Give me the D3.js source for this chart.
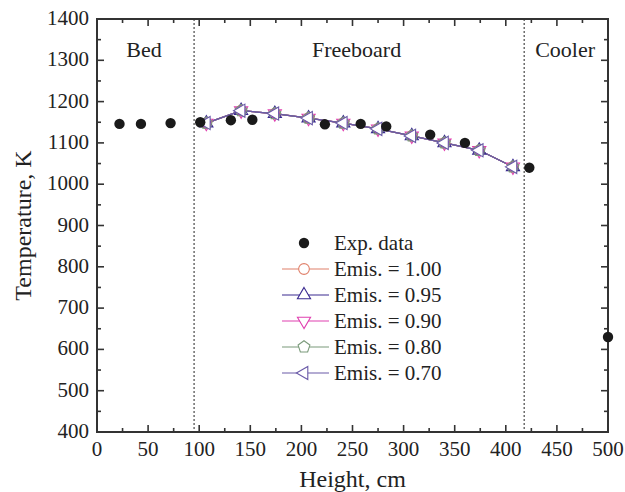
<!DOCTYPE html>
<html><head><meta charset="utf-8">
<script src="https://cdn.jsdelivr.net/npm/d3@7"></script>
<style>body{margin:0;background:#fff}</style>
</head><body><svg id="c" width="625" height="492" font-family="Liberation Serif, Times New Roman, serif" fill="#222"></svg>
<script>
const expHeight = [22, 43, 72, 101, 131, 152, 223, 258, 283, 326, 360, 423, 500];
const expTemp   = [1146, 1146, 1148, 1150, 1155, 1156, 1145, 1146, 1140, 1120, 1100, 1040, 630];
const simHeight = [107, 141, 174, 207, 241, 275, 308, 340, 374, 407];
const emis100 = [1148, 1178, 1171, 1160, 1148, 1134, 1117, 1100, 1082, 1042];
const emis095 = [1148, 1178, 1171, 1160, 1148, 1134, 1117, 1100, 1082, 1042];
const emis090 = [1148, 1178, 1171, 1160, 1148, 1134, 1117, 1100, 1082, 1042];
const emis080 = [1148, 1178, 1171, 1160, 1148, 1134, 1117, 1100, 1082, 1042];
const emis070 = [1148, 1178, 1171, 1160, 1148, 1134, 1117, 1100, 1082, 1042];
const seriesNames = ["Emis. = 1.00", "Emis. = 0.95", "Emis. = 0.90", "Emis. = 0.80", "Emis. = 0.70"];
const xTicks = [0, 50, 100, 150, 200, 250, 300, 350, 400, 450, 500];
const yTicks = [400, 500, 600, 700, 800, 900, 1000, 1100, 1200, 1300, 1400];
const zoneBounds = [95, 418];
const zoneLabels = [{t:"Bed", x:46}, {t:"Freeboard", x:254}, {t:"Cooler", x:458}];

const W = 625, H = 492, m = {l:97, r:17, t:19, b:60};
const svg = d3.select("#c");
const x = d3.scaleLinear().domain([0,500]).range([m.l, W-m.r]);
const y = d3.scaleLinear().domain([400,1400]).range([H-m.b, m.t]);

const colors = ["#e0806a", "#3a2a90", "#e040b0", "#7a9a7a", "#6a5aa8"];
const sym = [d3.symbolCircle, d3.symbolTriangle, d3.symbolTriangle, "pent", d3.symbolTriangle];
const rot = [0, 0, 180, 0, -90];
const series = [emis100, emis095, emis090, emis080, emis070];

function markerPath(i){
  if (sym[i] === "pent") {
    const r = 6.2, pts = [];
    for (let k=0;k<5;k++){const a = -Math.PI/2 + k*2*Math.PI/5; pts.push([r*Math.cos(a), r*Math.sin(a)]);}
    return d3.line()(pts) + "Z";
  }
  return d3.symbol().type(sym[i]).size(sym[i]===d3.symbolCircle?90:75)();
}

// zone lines
svg.selectAll(".zone").data(zoneBounds).join("line")
  .attr("x1", d=>x(d)).attr("x2", d=>x(d)).attr("y1", y(1400)).attr("y2", y(400))
  .attr("stroke", "#555").attr("stroke-width", 1.3).attr("stroke-dasharray", "2,2");

svg.selectAll(".zl").data(zoneLabels).join("text")
  .attr("x", d=>x(d.x)).attr("y", 57).attr("text-anchor","middle").attr("font-size", 22).text(d=>d.t);

// axes
const axG = svg.append("g").attr("stroke", "#333").attr("stroke-width", 1.6);
const xMinor = d3.range(0, 501, 25), yMinor = d3.range(400, 1401, 50);
xMinor.forEach(v=>{
  const L = v%50===0 ? 7 : 4;
  axG.append("line").attr("x1",x(v)).attr("x2",x(v)).attr("y1",y(400)).attr("y2",y(400)-L);
  axG.append("line").attr("x1",x(v)).attr("x2",x(v)).attr("y1",y(1400)).attr("y2",y(1400)+L);
});
yMinor.forEach(v=>{
  const L = v%100===0 ? 7 : 4;
  axG.append("line").attr("x1",x(0)).attr("x2",x(0)+L).attr("y1",y(v)).attr("y2",y(v));
  axG.append("line").attr("x1",x(500)).attr("x2",x(500)-L).attr("y1",y(v)).attr("y2",y(v));
});
axG.append("rect").attr("x", x(0)).attr("y", y(1400)).attr("width", x(500)-x(0)).attr("height", y(400)-y(1400)).attr("fill","none").attr("stroke-width",2);

svg.selectAll(".xt").data(xTicks).join("text")
  .attr("x", d=>x(d)).attr("y", 456).attr("text-anchor","middle").attr("font-size", 21).text(d=>d);
svg.selectAll(".yt").data(yTicks).join("text")
  .attr("x", x(0)-8).attr("y", d=>y(d)+6).attr("text-anchor","end").attr("font-size", 21).text(d=>d);

svg.append("text").attr("x", (x(0)+x(500))/2).attr("y", 487).attr("text-anchor","middle").attr("font-size", 24).text("Height, cm");
svg.append("text").attr("transform", `translate(31,${(y(400)+y(1400))/2}) rotate(-90)`).attr("text-anchor","middle").attr("font-size", 24).text("Temperature, K");

// series
const line = d3.line().x((d,i)=>x(simHeight[i])).y(d=>y(d));
series.forEach((s,i)=>{
  svg.append("path").attr("d", line(s)).attr("fill","none").attr("stroke", colors[i]).attr("stroke-width",1.2);
});
series.forEach((s,i)=>{
  svg.selectAll(null).data(s).join("path")
    .attr("d", markerPath(i))
    .attr("transform", (d,k)=>`translate(${x(simHeight[k])},${y(d)}) rotate(${rot[i]})`)
    .attr("fill","#fff").attr("fill-opacity", i===4?1:0).attr("stroke", colors[i]).attr("stroke-width",1.1);
});

// exp data
svg.selectAll(".exp").data(expTemp).join("circle")
  .attr("cx", (d,i)=>x(expHeight[i])).attr("cy", d=>y(d)).attr("r", 5.2).attr("fill", "#1a1a1a");

// legend
const lg = svg.append("g");
lg.append("circle").attr("cx", 304).attr("cy", 243).attr("r", 5.2).attr("fill","#1a1a1a");
lg.append("text").attr("x", 334).attr("y", 250).attr("font-size", 21).text("Exp. data");
seriesNames.forEach((n,i)=>{
  const yy = 269 + i*26;
  lg.append("line").attr("x1",282).attr("x2",329).attr("y1",yy).attr("y2",yy).attr("stroke",colors[i]).attr("stroke-width",1.2);
  lg.append("path").attr("d", markerPath(i)).attr("transform",`translate(304,${yy}) rotate(${rot[i]})`).attr("fill","#fff").attr("stroke",colors[i]).attr("stroke-width",1.1);
  lg.append("text").attr("x", 334).attr("y", yy+7).attr("font-size", 21).text(n);
});
</script></body></html>
